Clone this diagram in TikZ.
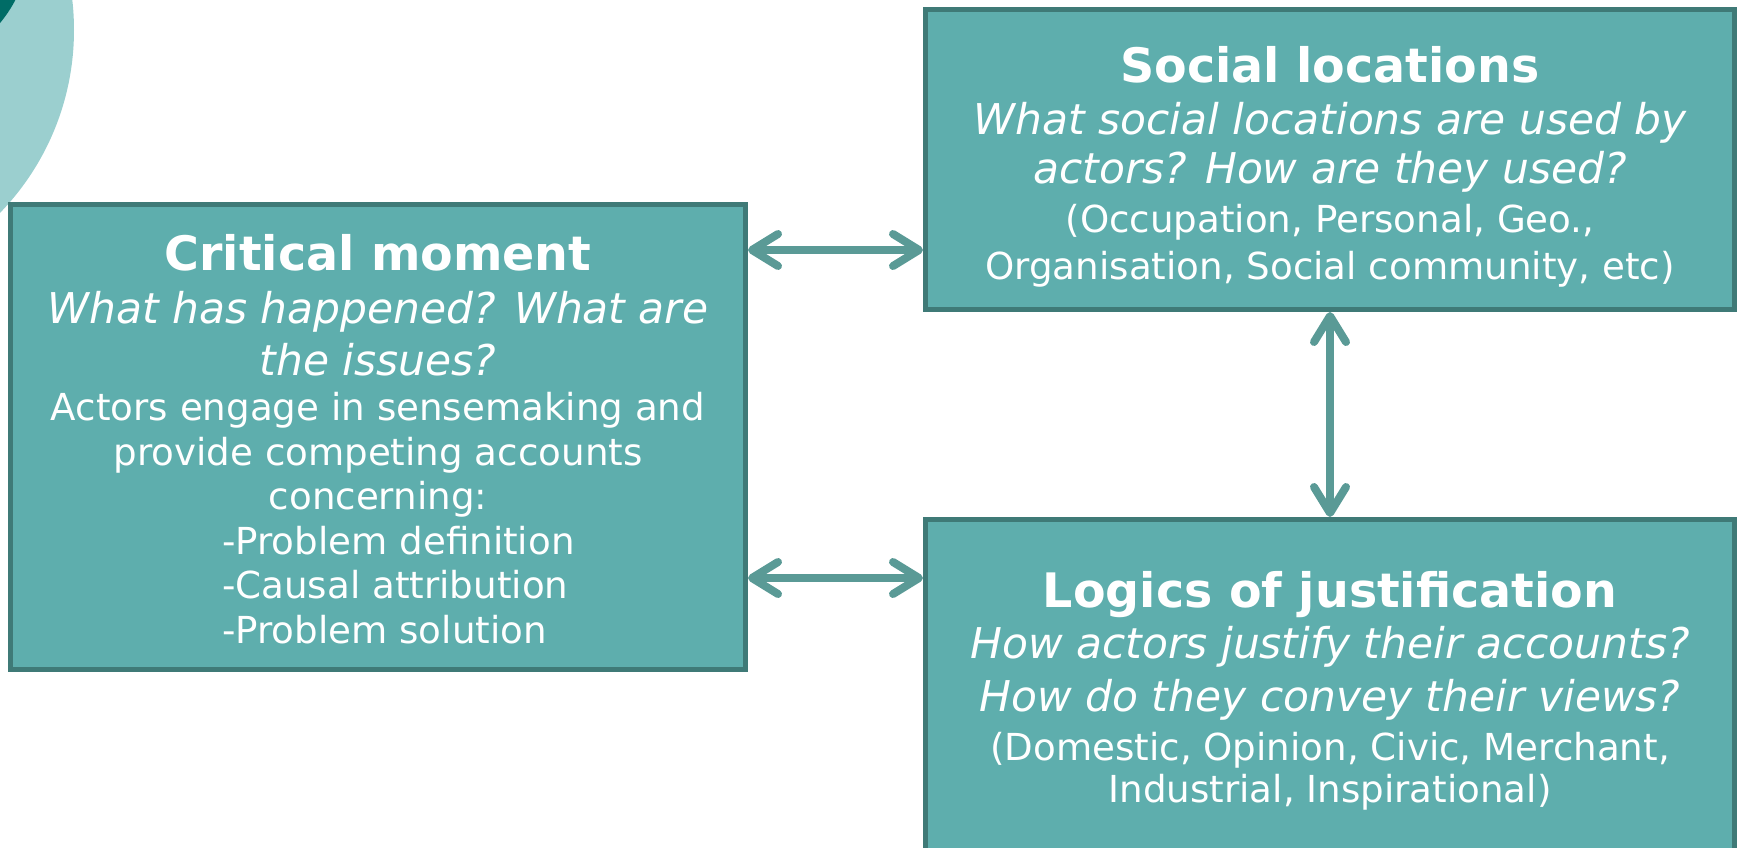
\documentclass[tikz,border=0pt]{standalone}
\usepackage{fontspec}
\setmainfont{DejaVu Sans}
\usetikzlibrary{arrows.meta}
\definecolor{boxfill}{RGB}{94,174,173}
\definecolor{boxline}{RGB}{63,122,119}
\definecolor{arrowc}{RGB}{90,154,150}
\definecolor{lightc}{RGB}{155,207,207}
\definecolor{darkc}{RGB}{0,108,102}
\tikzset{
  box/.style={draw=boxline, fill=boxfill, line width=5pt, inner sep=0pt, rectangle},
  ttl/.style={anchor=base, text=white, inner sep=0pt, font=\fontsize{47.5}{55}\selectfont\bfseries},
  itl/.style={anchor=base, text=white, inner sep=0pt, font=\fontsize{42.4}{50}\selectfont\itshape},
  bdy/.style={anchor=base, text=white, inner sep=0pt, font=\fontsize{37.2}{44}\selectfont},
  bdyl/.style={bdy, anchor=base west},
  arr/.style={draw=arrowc, line width=8pt,
    {Straight Barb[round,length=26pt,width=32pt]}-{Straight Barb[round,length=26pt,width=32pt]}}
}
\begin{document}
\begin{tikzpicture}[x=1pt,y=-1pt]
\useasboundingbox (0,0) rectangle (1742,847);
\clip (0,0) rectangle (1742,847);
% decorative circles
\fill[lightc] (-189,30) circle (263);
\fill[darkc] (-100,-60) circle (130);
% boxes
\node[box, minimum width=735pt, minimum height=465pt] (crit) at (378,437) {};
\node[box, minimum width=809pt, minimum height=300pt] (soc) at (1330,159.5) {};
\node[box, minimum width=809pt, minimum height=430pt] (log) at (1330,734.5) {};
% critical moment text
\node[ttl] (c0) at (378,270) {Critical moment};
\node[itl] (c1) at (378,323) {What has happened? What are};
\node[itl] (c2) at (378,375) {the issues?};
\node[bdy] (c3) at (378,420) {Actors engage in sensemaking and};
\node[bdy] (c4) at (378,465) {provide competing accounts};
\node[bdy] (c5) at (378,509) {concerning:};
\node[bdyl] (c6) at (222,554) {-Problem definition};
\node[bdyl] (c7) at (222,598) {-Causal attribution};
\node[bdyl] (c8) at (222,643) {-Problem solution};
% social locations text
\node[ttl] (s0) at (1330,82) {Social locations};
\node[itl] (s1) at (1330,134) {What social locations are used by};
\node[itl] (s2) at (1330,183) {actors? How are they used?};
\node[bdy] (s3) at (1330,232) {(Occupation, Personal, Geo.,};
\node[bdy] (s4) at (1330,279) {Organisation, Social community, etc)};
% logics text
\node[ttl] (l0) at (1330,607) {Logics of justification};
\node[itl] (l1) at (1330,658) {How actors justify their accounts?};
\node[itl] (l2) at (1330,711) {How do they convey their views?};
\node[bdy] (l3) at (1330,760) {(Domestic, Opinion, Civic, Merchant,};
\node[bdy] (l4) at (1330,802) {Industrial, Inspirational)};
% arrows
\draw[arr] (crit.east |- 0,250) -- (soc.west |- 0,250);
\draw[arr] (crit.east |- 0,578) -- (log.west |- 0,578);
\draw[arr] (soc.south) -- (log.north);
\end{tikzpicture}
\end{document}
